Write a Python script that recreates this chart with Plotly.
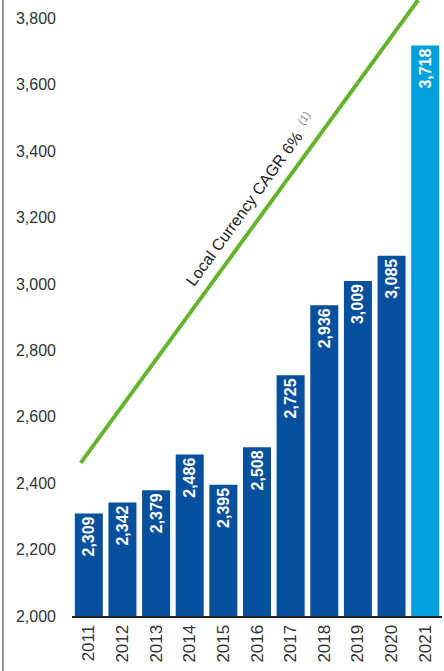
import plotly.graph_objects as go

years = [2011, 2012, 2013, 2014, 2015, 2016, 2017, 2018, 2019, 2020, 2021]
values = [2309, 2342, 2379, 2486, 2395, 2508, 2725, 2936, 3009, 3085, 3718]
bar_colors = ["#07509e"] * 10 + ["#009fdf"]
cagr_x = [2010.76, 2020.79]
cagr_y = [2461, 3855]
y_ticks = [2000, 2200, 2400, 2600, 2800, 3000, 3200, 3400, 3600, 3800]

FONT = "Liberation Sans, Arial, sans-serif"
NARROW = "Liberation Sans Narrow, Arial Narrow, Liberation Sans, sans-serif"

fig = go.Figure()
fig.add_trace(go.Bar(
    x=years, y=values, marker=dict(color=bar_colors, line=dict(width=0)),
    text=[f"{v:,}" for v in values], textposition="inside", textangle=-90,
    insidetextanchor="end", constraintext="none",
    textfont=dict(family=FONT, size=16, color="white", weight="bold"),
    width=0.833, showlegend=False, hoverinfo="skip",
))
fig.add_trace(go.Scatter(
    x=cagr_x, y=cagr_y, mode="lines", line=dict(color="#66b32e", width=4),
    showlegend=False, hoverinfo="skip",
))
fig.add_annotation(
    x=2015.79, y=3255, xref="x", yref="y",
    text='Local Currency CAGR 6%  <sup><span style="font-size:11px;color:#888">(1)</span></sup>',
    showarrow=False, textangle=-54, font=dict(family=FONT, size=16, color="#222"),
)
fig.add_shape(type="line", xref="paper", yref="paper",
              x0=-0.1865, x1=-0.1865, y0=-0.1, y1=1.0,
              line=dict(color="#777", width=1.5))

fig.update_layout(
    width=444, height=671, margin=dict(l=72, r=2, t=0, b=55),
    paper_bgcolor="white", plot_bgcolor="white",
    font=dict(family=FONT, color="#333"),
    bargap=0.167,
    xaxis=dict(range=[2010.5, 2021.5], tickvals=years, ticktext=[str(y) for y in years],
               tickangle=-90, tickfont=dict(family=NARROW, size=17, color="#333"),
               showgrid=False, zeroline=False, showline=True, linecolor="#222", linewidth=2,
               ticks=""),
    yaxis=dict(range=[2000, 3855], tickvals=y_ticks, tickformat=",d",
               tickfont=dict(size=16, color="#333"), showgrid=False, zeroline=False,
               showline=False, ticks="", ticklabelstandoff=15),
)
fig.write_html("out.html", config={"displayModeBar": False},
               post_script="document.body.style.margin='0';")
